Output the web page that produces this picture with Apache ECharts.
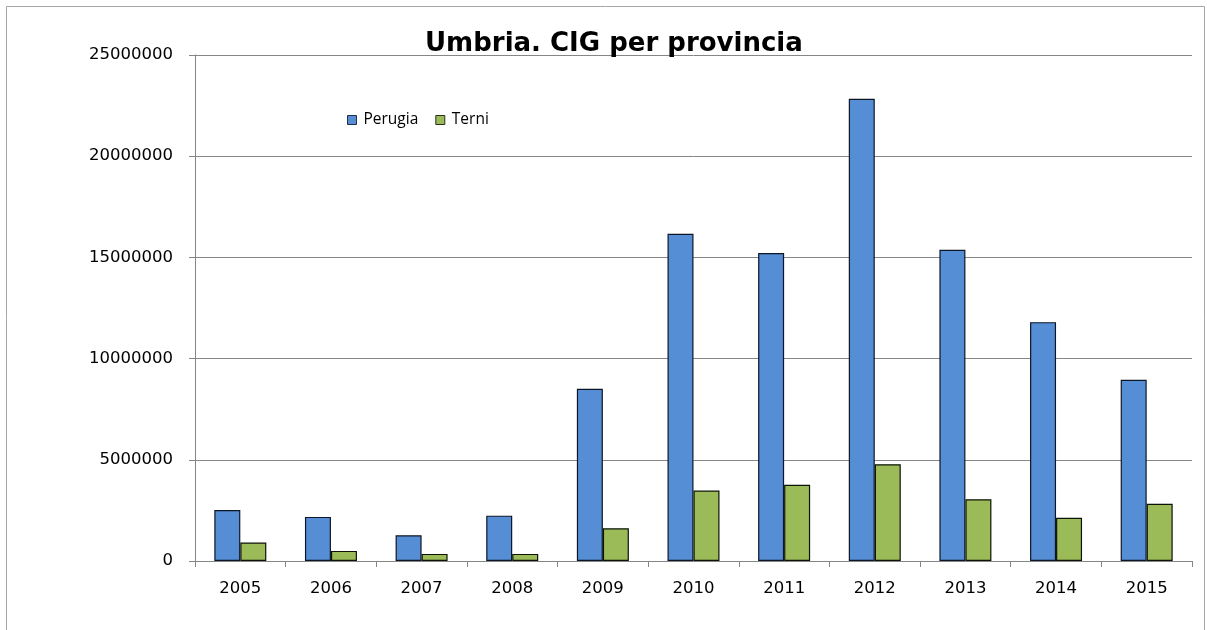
<!DOCTYPE html>
<html>
<head>
<meta charset="utf-8">
<title>Umbria. CIG per provincia</title>
<script src="https://cdn.jsdelivr.net/npm/echarts@6/dist/echarts.min.js"></script>
<style>
  html, body { margin: 0; padding: 0; background: #fff; }
  #chart { width: 1207px; height: 630px; }
</style>
</head>
<body>
<div id="chart"></div>
<script>
// Ore di Cassa Integrazione Guadagni per provincia, 2005-2015
const years = ['2005','2006','2007','2008','2009','2010','2011','2012','2013','2014','2015'];
const perugia = [2520000, 2180000, 1270000, 2240000, 8510000, 16170000, 15220000, 22840000, 15380000, 11800000, 8950000];
const terni = [910000, 500000, 350000, 350000, 1620000, 3480000, 3770000, 4780000, 3050000, 2140000, 2830000];
const yTicks = [0, 5000000, 10000000, 15000000, 20000000, 25000000];

const chart = echarts.init(document.getElementById('chart'), null, { renderer: 'canvas' });
const labelFont = 'DejaVu Sans';

chart.setOption({
  animation: false,
  backgroundColor: '#ffffff',
  title: {
    text: 'Umbria. CIG per provincia',
    left: 425,
    top: 31,
    padding: 0,
    textStyle: { fontFamily: 'DejaVu Sans', fontWeight: 'bold', fontSize: 26, color: '#000' }
  },
  legend: {
    left: 347,
    top: 112,
    padding: 0,
    itemWidth: 9,
    itemHeight: 9,
    itemGap: 17,
    icon: 'rect',
    textStyle: { fontFamily: 'Open Sans', fontSize: 15.5, color: '#000', padding: [0, 0, 0, 2] },
    data: [
      { name: 'Perugia', itemStyle: { borderColor: '#1f2f4a', borderWidth: 1 } },
      { name: 'Terni', itemStyle: { borderColor: '#2a3318', borderWidth: 1 } }
    ]
  },
  grid: { left: 195, right: 15, top: 55, bottom: 69, containLabel: false },
  graphic: [{
    type: 'rect',
    shape: { x: 6.5, y: 6.5, width: 1198, height: 640 },
    style: { fill: 'none', stroke: '#a6a6a6', lineWidth: 1 },
    silent: true,
    z: -1
  }],
  xAxis: {
    type: 'category',
    data: years,
    boundaryGap: true,
    axisLine: { lineStyle: { color: '#868686', width: 1 } },
    axisTick: { show: true, inside: false, length: 6, alignWithLabel: false, lineStyle: { color: '#868686' } },
    axisLabel: { fontFamily: labelFont, fontSize: 16.5, color: '#000', margin: 19 },
    splitLine: { show: false }
  },
  yAxis: {
    type: 'value',
    min: yTicks[0],
    max: yTicks[yTicks.length - 1],
    interval: yTicks[1] - yTicks[0],
    axisLine: { show: true, lineStyle: { color: '#868686', width: 1 } },
    axisTick: { show: true, length: 6, lineStyle: { color: '#868686' } },
    axisLabel: {
      fontFamily: labelFont, fontSize: 16.5, color: '#000', margin: 22,
      formatter: v => String(v)
    },
    splitLine: { show: true, lineStyle: { color: '#868686', width: 1 } }
  },
  series: [
    {
      name: 'Perugia',
      type: 'bar',
      data: perugia,
      barWidth: 26,
      barGap: '0%',
      itemStyle: { color: '#558ed5', borderColor: '#0d1626', borderWidth: 1.2 }
    },
    {
      name: 'Terni',
      type: 'bar',
      data: terni,
      barWidth: 26,
      barGap: '0%',
      itemStyle: { color: '#9bbb59', borderColor: '#0d1306', borderWidth: 1.2 }
    }
  ]
});
</script>
</body>
</html>
